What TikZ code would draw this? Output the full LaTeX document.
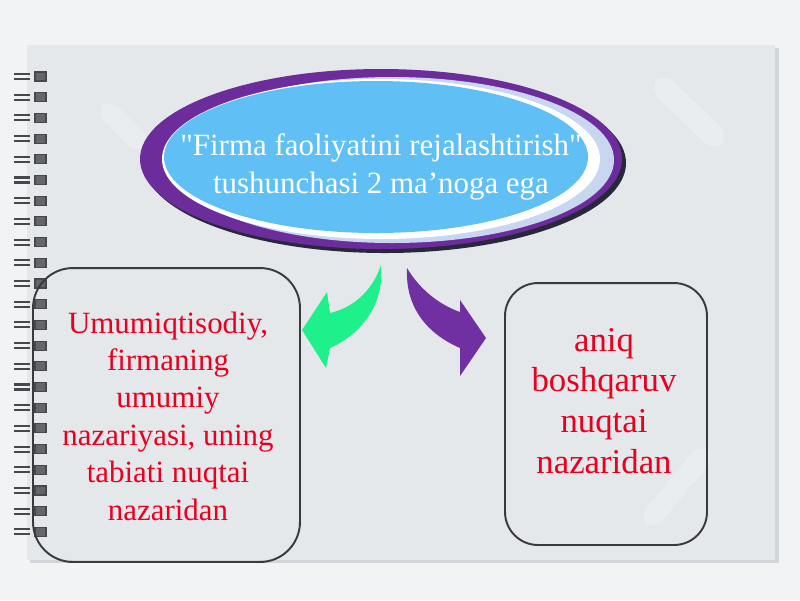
\documentclass[tikz,border=0pt]{standalone}
\usepackage{fontspec}
\setmainfont{Liberation Serif}
\usepackage{xcolor}
\definecolor{sheet-bg}{RGB}{242,243,245}
\definecolor{page-bg}{RGB}{229,232,235}
\definecolor{page-shadow}{RGB}{210,213,217}
\definecolor{ring-dark}{RGB}{70,72,78}
\definecolor{ring-mid}{RGB}{100,102,108}
\definecolor{oval-shadow}{RGB}{40,40,58}
\definecolor{oval-purple}{RGB}{108,44,156}
\definecolor{oval-glow}{RGB}{200,214,240}
\definecolor{oval-blue}{RGB}{96,192,245}
\definecolor{box-line}{RGB}{58,58,60}
\definecolor{sense-red}{RGB}{232,0,32}
\definecolor{arrow-green}{RGB}{30,240,140}
\definecolor{arrow-purple}{RGB}{112,48,162}
\usetikzlibrary{positioning}
\begin{document}
\begin{tikzpicture}[x=0.02cm, y=-0.02cm,
    sense box/.style={draw=box-line, line width=1.1pt, rounded corners=#1, inner sep=0pt},
    sense text/.style={text=sense-red, align=center, inner sep=0pt},
    ring wire/.style={draw=ring-dark, line width=1.2pt},
    faint mark/.style={fill=white, opacity=0.22, rounded corners=8pt}
]
\useasboundingbox (0,0) rectangle (800,600);

% Sheet and notebook page
\fill[sheet-bg] (0,0) rectangle (800,600);
\fill[page-shadow] (30,48) rectangle (779,563);
\fill[page-bg] (27,45) rectangle (775,560);

% Faint marks on the page
\fill[faint mark] (648,88) -- (664,72) -- (730,136) -- (714,152) -- cycle;
\fill[faint mark] (95,112) -- (109,98) -- (152,141) -- (138,155) -- cycle;
\fill[faint mark] (638,518) -- (700,443) -- (716,456) -- (654,531) -- cycle;

% Spiral binding
\foreach \k in {0,...,22}{
  \pgfmathsetmacro\ry{77+20.7*\k}
  \draw[ring wire] (14,\ry-3) -- (30,\ry-3);
  \draw[ring wire] (14,\ry+2) -- (30,\ry+2);
  \fill[ring-mid, draw=ring-dark, line width=0.6pt] (35,\ry-5) rectangle (46,\ry+4);
}

% Title oval
\fill[oval-shadow] (385,163) ellipse (241 and 90);
\fill[oval-purple] (381,159) ellipse (241 and 90);
\fill[oval-glow] (392,160) ellipse (222 and 83);
\fill[white] (381,159) ellipse (219 and 80);
\fill[oval-blue] (376,157) ellipse (212 and 76);
\coordinate (oval) at (381,159);
\node[text=white, align=center, inner sep=0pt,
      font=\fontsize{17.6pt}{22pt}\selectfont] (title) at (381,167)
  {\textquotedbl Firma faoliyatini rejalashtirish\textquotedbl\\tushunchasi 2 ma’noga ega};

% Left meaning box
\node[sense box=0.8cm, minimum width=5.34cm, minimum height=5.88cm] (lbox) at (166.5,415) {};
\node[sense text, font=\fontsize{17.6pt}{21.3pt}\selectfont] (ltext) at (168,416)
  {Umumiqtisodiy,\\firmaning\\umumiy\\nazariyasi, uning\\tabiati nuqtai\\nazaridan};

% Right meaning box
\node[sense box=0.66cm, minimum width=4.04cm, minimum height=5.24cm] (rbox) at (606,414) {};
\node[sense text, font=\fontsize{19.8pt}{23.2pt}\selectfont] (rtext) at (604,401)
  {aniq\\boshqaruv\\nuqtai\\nazaridan};

% Curved arrows from the oval down to the boxes
\coordinate (gtail) at (381,265);
\coordinate (ptail) at (407,268);
\fill[arrow-green] (gtail)
  .. controls (372,292) and (352,308) .. (330,313)
  -- (327,292) -- (302,330) -- (326,368) -- (330,348)
  .. controls (360,335) and (385,305) .. (gtail) -- cycle;
\fill[arrow-purple] (ptail)
  .. controls (420,290) and (440,305) .. (460,312)
  -- (460,300) -- (486,338) -- (460,376) -- (460,348)
  .. controls (430,335) and (405,310) .. (ptail) -- cycle;

\end{tikzpicture}
\end{document}
